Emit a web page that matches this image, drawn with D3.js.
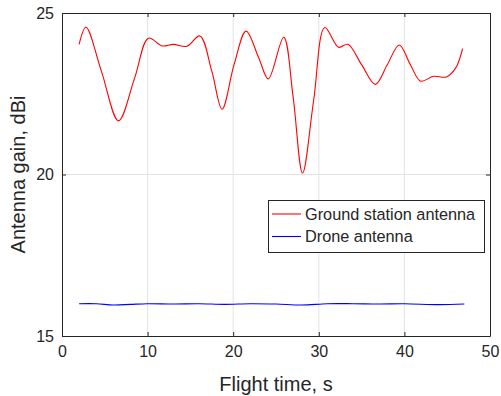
<!DOCTYPE html>
<html>
<head>
<meta charset="utf-8">
<script src="https://cdn.jsdelivr.net/npm/d3@7"></script>
<style>
body{margin:0;background:#fff;}
text{font-family:"Liberation Sans",Arial,sans-serif;fill:#262626;}
</style>
</head>
<body>
<svg id="chart" width="501" height="396"></svg>
<script>
/* antenna gain vs flight time */
var xTicks = [0, 10, 20, 30, 40, 50];
var yTicks = [15, 20, 25];
var groundTime = [2, 2.8, 4.6, 6.6, 8.5, 10.1, 11.7, 13.0, 14.6, 16.1, 17.5, 18.7, 20.1, 21.5, 23.0, 24.1, 25.9, 27.0, 28.1, 29.4, 30.7, 32.3, 33.4, 35.0, 36.6, 38.0, 39.4, 40.7, 41.9, 43.4, 44.9, 46.0, 46.8];
var groundGain = [24.03, 24.56, 23.2, 21.66, 23.0, 24.22, 23.98, 24.03, 23.97, 24.29, 23.2, 22.02, 23.4, 24.44, 23.6, 22.96, 24.25, 22.4, 20.04, 22.3, 24.55, 23.94, 24.03, 23.4, 22.79, 23.4, 24.01, 23.4, 22.89, 23.04, 23.02, 23.3, 23.9];
var droneTime = [2, 4, 6, 8, 10, 13, 16, 19, 22, 25, 28, 31, 34, 37, 40, 44, 47];
var droneGain = [16.0, 16.0, 15.96, 15.98, 16.0, 15.99, 16.0, 15.98, 16.0, 15.99, 15.96, 16.0, 16.0, 15.99, 16.0, 15.97, 15.99];
var seriesNames = ['Ground station antenna', 'Drone antenna'];
var seriesColors = ['#ff0000', '#0000ff'];

var pLeft = 62, pRight = 490, pTop = 13, pBottom = 336;
var svg = d3.select('#chart');
var x = d3.scaleLinear().domain([0, 50]).range([pLeft, pRight]);
var y = d3.scaleLinear().domain([15, 25]).range([pBottom, pTop]);

// grid
var grid = svg.append('g').attr('class', 'grid');
grid.selectAll('.gx')
	.data(xTicks.slice(1, -1))
	.enter()
	.append('line')
	.attr('x1', function(d){ return x(d); })
	.attr('x2', function(d){ return x(d); })
	.attr('y1', pTop)
	.attr('y2', pBottom)
	.attr('stroke', '#e3e3e3')
	.attr('stroke-width', 1);
grid.selectAll('.gy')
	.data(yTicks.slice(1, -1))
	.enter()
	.append('line')
	.attr('x1', pLeft)
	.attr('x2', pRight)
	.attr('y1', function(d){ return y(d); })
	.attr('y2', function(d){ return y(d); })
	.attr('stroke', '#e3e3e3')
	.attr('stroke-width', 1);

// lines
var line = d3.line()
	.x(function(d){ return x(d[0]); })
	.y(function(d){ return y(d[1]); })
	.curve(d3.curveCatmullRom.alpha(0.5));
var series = [d3.zip(groundTime, groundGain), d3.zip(droneTime, droneGain)];
svg.append('g').selectAll('path')
	.data(series)
	.enter()
	.append('path')
	.attr('d', line)
	.attr('fill', 'none')
	.attr('stroke', function(d, i){ return seriesColors[i]; })
	.attr('stroke-width', 1.1);

// axes, ticks inward, box all round
var axB = d3.axisBottom(x).tickValues(xTicks).tickSizeInner(-4).tickSizeOuter(0).tickPadding(10);
var axT = d3.axisTop(x).tickValues(xTicks).tickSizeInner(-4).tickSizeOuter(0).tickFormat('');
var axL = d3.axisLeft(y).tickValues(yTicks).tickSizeInner(-4).tickSizeOuter(0).tickPadding(8);
var axR = d3.axisRight(y).tickValues(yTicks).tickSizeInner(-4).tickSizeOuter(0).tickFormat('');
var gB = svg.append('g').attr('transform', 'translate(0,' + pBottom + ')').call(axB);
var gT = svg.append('g').attr('transform', 'translate(0,' + pTop + ')').call(axT);
var gL = svg.append('g').attr('transform', 'translate(' + pLeft + ',0)').call(axL);
var gR = svg.append('g').attr('transform', 'translate(' + pRight + ',0)').call(axR);
[gB, gT, gL, gR].forEach(function(g){
	g.select('.domain').attr('stroke', '#262626');
	g.selectAll('.tick line').attr('stroke', '#262626');
	g.selectAll('.tick text').attr('font-size', '16px').attr('fill', '#262626');
});

svg.append('text')
	.attr('x', (pLeft + pRight) / 2)
	.attr('y', 391)
	.attr('text-anchor', 'middle')
	.attr('font-size', '20px')
	.text('Flight time, s');
svg.append('text')
	.attr('transform', 'translate(25,' + ((pTop + pBottom) / 2) + ') rotate(-90)')
	.attr('text-anchor', 'middle')
	.attr('font-size', '20px')
	.text('Antenna gain, dBi');

// legend
var lg = svg.append('g').attr('class', 'legend');
lg.append('rect')
	.attr('x', 268.5)
	.attr('y', 200.5)
	.attr('width', 216)
	.attr('height', 52)
	.attr('fill', '#fff')
	.attr('stroke', '#262626')
	.attr('stroke-width', 1);
var item = lg.selectAll('.item')
	.data(seriesNames)
	.enter()
	.append('g')
	.attr('transform', function(d, i){ return 'translate(0,' + (214 + i * 22.5) + ')'; });
item.append('line')
	.attr('x1', 272)
	.attr('x2', 301)
	.attr('stroke', function(d, i){ return seriesColors[i]; })
	.attr('stroke-width', 1.1);
item.append('text')
	.attr('x', 305)
	.attr('dy', '0.35em')
	.attr('font-size', '16.3px')
	.text(function(d){ return d; });
</script>
</body>
</html>
